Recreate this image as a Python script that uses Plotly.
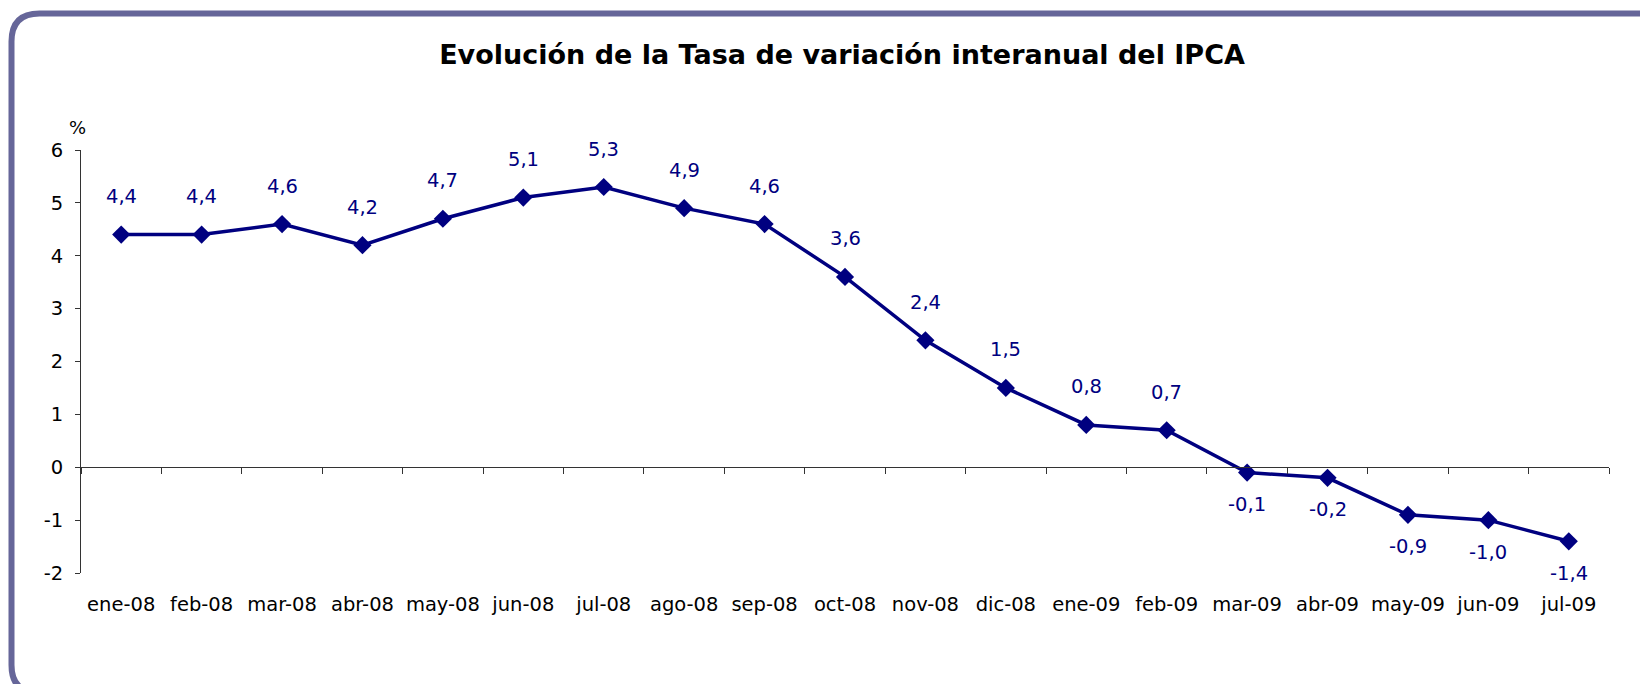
import plotly.graph_objects as go

months = ["ene-08", "feb-08", "mar-08", "abr-08", "may-08", "jun-08", "jul-08",
          "ago-08", "sep-08", "oct-08", "nov-08", "dic-08", "ene-09", "feb-09",
          "mar-09", "abr-09", "may-09", "jun-09", "jul-09"]
ipca = [4.4, 4.4, 4.6, 4.2, 4.7, 5.1, 5.3, 4.9, 4.6, 3.6, 2.4, 1.5, 0.8, 0.7,
        -0.1, -0.2, -0.9, -1.0, -1.4]
y_ticks = [-2, -1, 0, 1, 2, 3, 4, 5, 6]
y_tick_labels = ["-2", "-1", "0", "1", "2", "3", "4", "5", "6"]

# page body has an 8px margin: the figure starts at (8, 8) on screen
OFF = 8
W, H = 1648 - OFF, 684 - OFF
# plot area in screen px: x 81..1609, y 150..573
ML = 81 - OFF
MT = 150 - OFF
MR = W - (1609 - OFF)
MB = H - (573 - OFF)
PW, PH = W - ML - MR, H - MT - MB

NAVY = "#000080"
FRAME = "#666699"
FONT = "DejaVu Sans, Liberation Sans, Arial, sans-serif"

def px2x(p):  # screen px -> paper x
    return (p - OFF - ML) / PW

def px2y(p):  # screen px -> paper y
    return (H - MB - (p - OFF)) / PH

fig = go.Figure()
fig.add_trace(go.Scatter(
    x=months, y=ipca, mode="lines+markers",
    line=dict(color=NAVY, width=3.5),
    marker=dict(symbol="diamond", size=14, color=NAVY),
    hoverinfo="x+y", showlegend=False,
))
# invisible helper trace for the zero-line axis
fig.add_trace(go.Scatter(
    x=months, y=ipca, xaxis="x2", mode="markers",
    marker=dict(opacity=0), hoverinfo="skip", showlegend=False,
))

for m, v in zip(months, ipca):
    fig.add_annotation(
        x=m, y=v, xref="x", yref="y",
        text=f"{v:.1f}".replace(".", ","),
        showarrow=False,
        yshift=38 if v >= 0 else -32,
        font=dict(family=FONT, size=19.5, color=NAVY),
    )

fig.add_annotation(
    x=px2x(67), y=px2y(115), xref="paper", yref="paper",
    text="%", showarrow=False,
    font=dict(family=FONT, size=18, color="black"),
)

# rounded frame (screen px), partly running off the page on the right and bottom
L, T, R, B, r = 11.5, 13.5, 1672, 693, 28
path = (f"M {px2x(L)},{px2y(T + r)} "
        f"Q {px2x(L)},{px2y(T)} {px2x(L + r)},{px2y(T)} "
        f"L {px2x(R - r)},{px2y(T)} "
        f"Q {px2x(R)},{px2y(T)} {px2x(R)},{px2y(T + r)} "
        f"L {px2x(R)},{px2y(B - r)} "
        f"Q {px2x(R)},{px2y(B)} {px2x(R - r)},{px2y(B)} "
        f"L {px2x(L + r)},{px2y(B)} "
        f"Q {px2x(L)},{px2y(B)} {px2x(L)},{px2y(B - r)} Z")
fig.add_shape(type="path", path=path, xref="paper", yref="paper",
              line=dict(color=FRAME, width=6), layer="below")

fig.update_layout(
    width=W, height=H,
    margin=dict(l=ML, r=MR, t=MT, b=MB, pad=0),
    paper_bgcolor="white", plot_bgcolor="white",
    title=dict(text="<b>Evolución de la Tasa de variación interanual del IPCA</b>",
               x=(842 - OFF) / W, xanchor="center", y=1 - (55 - OFF) / H, yanchor="middle",
               font=dict(family=FONT, size=27, color="black")),
    xaxis=dict(type="category", categoryorder="array", categoryarray=months,
               range=[-0.5, len(months) - 0.5],
               showline=False, showgrid=False, zeroline=False, ticks="",
               ticklabelstandoff=17,
               tickfont=dict(family=FONT, size=19.5, color="black")),
    xaxis2=dict(type="category", categoryorder="array", categoryarray=months,
                range=[-0.5, len(months) - 0.5],
                overlaying="x", anchor="free", position=2 / 8, side="bottom",
                showline=True, linecolor="#333333", linewidth=1,
                ticks="outside", ticklen=6, tickcolor="#333333", tickson="boundaries",
                showticklabels=False, showgrid=False, zeroline=False),
    yaxis=dict(range=[-2, 6], tickvals=y_ticks, ticktext=y_tick_labels,
               showgrid=False, zeroline=False,
               showline=True, linecolor="#333333", linewidth=1,
               ticks="outside", ticklen=5, tickcolor="#333333",
               ticklabelstandoff=8,
               tickfont=dict(family=FONT, size=19.5, color="black")),
)

fig.write_html("out.html")
